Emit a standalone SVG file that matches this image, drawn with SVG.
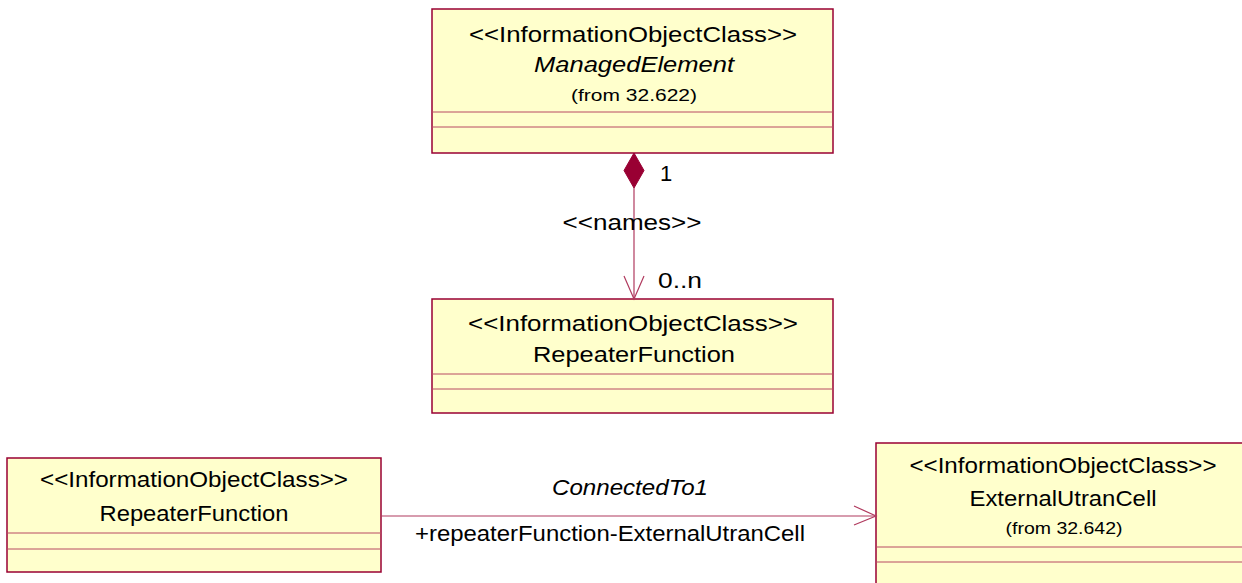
<svg xmlns="http://www.w3.org/2000/svg" width="1242" height="583" viewBox="0 0 1242 583">
<style>
.box{fill:#FFFFCC;stroke:#990033;stroke-width:1.5}
.div{stroke:#B84A62;stroke-width:1;fill:none}
text{font-family:"Liberation Sans",Arial,sans-serif;fill:#000}
.t{font-size:22px;text-anchor:middle}
.s{font-size:17px;text-anchor:middle}
.it{font-style:italic}
.conn{stroke:#B03A5E;stroke-width:1.2;fill:none}
</style>
<g id="managedElement">
<rect class="box" x="432" y="9" width="401" height="144"/>
<line class="div" x1="432" y1="112" x2="833" y2="112"/>
<line class="div" x1="432" y1="127" x2="833" y2="127"/>
<text class="t" x="633" y="42" textLength="328" lengthAdjust="spacingAndGlyphs">&lt;&lt;InformationObjectClass&gt;&gt;</text>
<text class="t it" x="634" y="72" textLength="200" lengthAdjust="spacingAndGlyphs">ManagedElement</text>
<text class="s" x="634" y="101" textLength="126" lengthAdjust="spacingAndGlyphs">(from 32.622)</text>
</g>
<g id="repeaterFunction1">
<rect class="box" x="432" y="299" width="401" height="114"/>
<line class="div" x1="432" y1="374" x2="833" y2="374"/>
<line class="div" x1="432" y1="389" x2="833" y2="389"/>
<text class="t" x="633" y="331" textLength="330" lengthAdjust="spacingAndGlyphs">&lt;&lt;InformationObjectClass&gt;&gt;</text>
<text class="t" x="634" y="362" textLength="202" lengthAdjust="spacingAndGlyphs">RepeaterFunction</text>
</g>
<g id="repeaterFunction2">
<rect class="box" x="7" y="458" width="374" height="114"/>
<line class="div" x1="7" y1="533" x2="381" y2="533"/>
<line class="div" x1="7" y1="549" x2="381" y2="549"/>
<text class="t" x="194" y="487" textLength="308" lengthAdjust="spacingAndGlyphs">&lt;&lt;InformationObjectClass&gt;&gt;</text>
<text class="t" x="194" y="521" textLength="189" lengthAdjust="spacingAndGlyphs">RepeaterFunction</text>
</g>
<g id="externalUtranCell">
<rect class="box" x="876" y="443" width="374" height="150"/>
<line class="div" x1="876" y1="547" x2="1250" y2="547"/>
<line class="div" x1="876" y1="562" x2="1250" y2="562"/>
<text class="t" x="1063" y="473" textLength="307" lengthAdjust="spacingAndGlyphs">&lt;&lt;InformationObjectClass&gt;&gt;</text>
<text class="t" x="1063" y="506" textLength="187" lengthAdjust="spacingAndGlyphs">ExternalUtranCell</text>
<text class="s" x="1064" y="534" textLength="117" lengthAdjust="spacingAndGlyphs">(from 32.642)</text>
</g>
<g id="connectors">
<line class="conn" x1="634" y1="188" x2="634" y2="299"/>
<polygon points="634,153 644,170.5 634,188 624,170.5" fill="#990033" stroke="#990033" stroke-width="1"/>
<polyline class="conn" points="624,276 634,299 644,276"/>
<text class="t" x="666" y="181">1</text>
<text class="t" x="632" y="230" textLength="139" lengthAdjust="spacingAndGlyphs">&lt;&lt;names&gt;&gt;</text>
<text class="t" x="680" y="288" textLength="44" lengthAdjust="spacingAndGlyphs">0..n</text>
<line class="conn" x1="381" y1="516" x2="876" y2="516"/>
<polyline class="conn" points="854,506 876,516 854,525"/>
<text class="t it" x="630" y="495" textLength="156" lengthAdjust="spacingAndGlyphs">ConnectedTo1</text>
<text class="t" x="610" y="541" textLength="390" lengthAdjust="spacingAndGlyphs">+repeaterFunction-ExternalUtranCell</text>
</g>
</svg>
